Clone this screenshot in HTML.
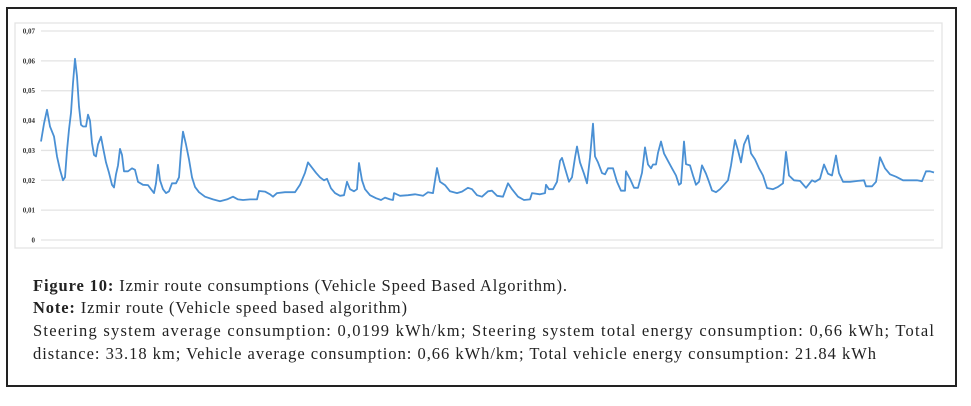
<!DOCTYPE html>
<html><head><meta charset="utf-8">
<style>
html,body{margin:0;padding:0;background:#fff;width:971px;height:406px;overflow:hidden;}
#frame{position:absolute;left:6px;top:7px;width:951px;height:380px;border:2px solid #222;box-sizing:border-box;}
#chart{position:absolute;left:0;top:0;}
#caption{position:absolute;left:0;top:260px;}
</style></head><body>
<div id="frame"></div>
<svg id="chart" width="971" height="260">
<rect x="15" y="23" width="927" height="225" fill="none" stroke="#e2e2e2" stroke-width="1.2"/>
<g id="grid"></g><g id="ylabels"></g><g id="series"></g>
</svg>
<svg id="caption" width="971" height="120" font-family="Liberation Serif, serif" font-size="16.5" fill="#222">
<text x="33" y="31" textLength="534" lengthAdjust="spacing"><tspan font-weight="bold">Figure 10:</tspan> Izmir route consumptions (Vehicle Speed Based Algorithm).</text>
<text x="33" y="53" textLength="374" lengthAdjust="spacing"><tspan font-weight="bold">Note:</tspan> Izmir route (Vehicle speed based algorithm)</text>
<text x="33" y="76" textLength="901" lengthAdjust="spacing">Steering system average consumption: 0,0199 kWh/km; Steering system total energy consumption: 0,66 kWh; Total</text>
<text x="33" y="99" textLength="843" lengthAdjust="spacing">distance: 33.18 km; Vehicle average consumption: 0,66 kWh/km; Total vehicle energy consumption: 21.84 kWh</text>
</svg>
<script>
const yTicks=[0,0.01,0.02,0.03,0.04,0.05,0.06,0.07];
const yTickLabels=["0","0,01","0,02","0,03","0,04","0,05","0,06","0,07"];
const samples=[0,3,6,9,13,16,19,22,24,26,28,30,32,34,36,38,40,42,45,47,49,51,53,55,57,60,62,65,68,71,73,75,77,79,81,83,87,91,94,97,102,107,110,113,115,117,119,122,125,128,131,135,138,140,142,145,148,151,154,158,164,172,179,186,192,197,202,209,216,218,224,229,232,236,244,254,259,264,267,275,279,283,286,290,294,299,303,306,309,313,316,318,321,324,329,335,340,344,349,352,353,359,367,374,382,387,392,396,399,404,409,416,421,427,431,436,441,447,451,456,462,467,471,477,483,489,491,499,504,505,508,512,516,519,521,524,528,531,534,536,539,543,546,549,552,554,557,561,564,567,572,576,580,584,585,589,593,597,601,604,607,610,612,615,617,620,623,627,631,635,638,640,643,645,649,652,655,658,661,665,668,671,675,679,683,687,690,694,697,700,703,707,710,714,718,722,726,732,737,742,745,748,753,759,765,771,774,779,783,787,791,795,798,802,809,817,823,825,831,835,839,844,849,855,862,869,876,881,885,889,893];
const values=[0.033,0.039,0.0436,0.038,0.0347,0.028,0.0235,0.020,0.021,0.030,0.037,0.0426,0.0526,0.0607,0.0548,0.0447,0.0386,0.038,0.038,0.042,0.040,0.0325,0.0285,0.028,0.032,0.0346,0.031,0.026,0.0225,0.0185,0.0176,0.022,0.025,0.0305,0.0285,0.023,0.023,0.024,0.0235,0.0195,0.0185,0.0184,0.017,0.0157,0.019,0.0252,0.020,0.017,0.0157,0.0163,0.019,0.019,0.021,0.030,0.0363,0.032,0.027,0.021,0.0178,0.016,0.0145,0.0136,0.013,0.0136,0.0145,0.0136,0.0134,0.0136,0.0136,0.0164,0.0162,0.0153,0.0145,0.0157,0.016,0.016,0.0185,0.0225,0.026,0.0225,0.021,0.020,0.0205,0.0173,0.0157,0.0148,0.015,0.0195,0.017,0.0163,0.017,0.0258,0.020,0.017,0.015,0.014,0.0134,0.0142,0.0136,0.0134,0.0157,0.0148,0.015,0.0153,0.0148,0.016,0.0157,0.0241,0.0195,0.0184,0.0163,0.0157,0.0162,0.0175,0.017,0.015,0.0145,0.0163,0.0165,0.0148,0.0145,0.019,0.017,0.0145,0.0134,0.0136,0.0157,0.0153,0.0157,0.0185,0.017,0.017,0.0195,0.0265,0.0275,0.024,0.0195,0.021,0.0276,0.0313,0.026,0.0222,0.019,0.0276,0.039,0.028,0.026,0.0224,0.022,0.024,0.024,0.0195,0.0165,0.0165,0.023,0.0205,0.0175,0.0175,0.0225,0.031,0.0253,0.024,0.0253,0.0253,0.0292,0.033,0.029,0.0265,0.024,0.0216,0.0185,0.019,0.033,0.0254,0.025,0.0216,0.0185,0.0195,0.025,0.0222,0.0195,0.0166,0.016,0.017,0.0185,0.020,0.025,0.0335,0.030,0.026,0.032,0.035,0.029,0.027,0.024,0.0216,0.0174,0.017,0.0178,0.019,0.0295,0.0216,0.020,0.0198,0.0175,0.020,0.0195,0.0205,0.0253,0.0222,0.0216,0.0283,0.0224,0.0195,0.0195,0.0198,0.020,0.018,0.018,0.0195,0.0277,0.024,0.022,0.0212,0.020,0.020,0.020,0.0197,0.023,0.023,0.0226];
const NS="http://www.w3.org/2000/svg";
const X0=41,X1=934,Y0=240,Y1=31;
const xScale=t=>X0+(t-samples[0])/(samples[samples.length-1]-samples[0])*(X1-X0);
const yScale=v=>Y0-(v/0.07)*(Y0-Y1);
const grid=document.getElementById('grid'),yl=document.getElementById('ylabels'),ser=document.getElementById('series');
yTicks.forEach((v,i)=>{
  const l=document.createElementNS(NS,'line');
  l.setAttribute('x1',X0);l.setAttribute('x2',X1);
  l.setAttribute('y1',yScale(v));l.setAttribute('y2',yScale(v));
  l.setAttribute('stroke','#e3e3e3');l.setAttribute('stroke-width','1.3');
  
  
  grid.appendChild(l);
  const t=document.createElementNS(NS,'text');
  t.setAttribute('x',35);t.setAttribute('y',yScale(v)+2.5);
  t.setAttribute('text-anchor','end');
  t.setAttribute('font-family','Liberation Serif, serif');
  t.setAttribute('font-size','7');t.setAttribute('font-weight','bold');t.setAttribute('fill','#333');
  t.textContent=yTickLabels[i];
  
  
  yl.appendChild(t);
});
const p=document.createElementNS(NS,'path');
p.setAttribute('d',samples.map((s,i)=>(i?'L':'M')+xScale(s).toFixed(1)+','+yScale(values[i]).toFixed(1)).join(''));
p.setAttribute('fill','none');p.setAttribute('stroke','#4a90d4');p.setAttribute('stroke-width','1.8');p.setAttribute('stroke-linejoin','round');


ser.appendChild(p);
</script>
</body></html>
